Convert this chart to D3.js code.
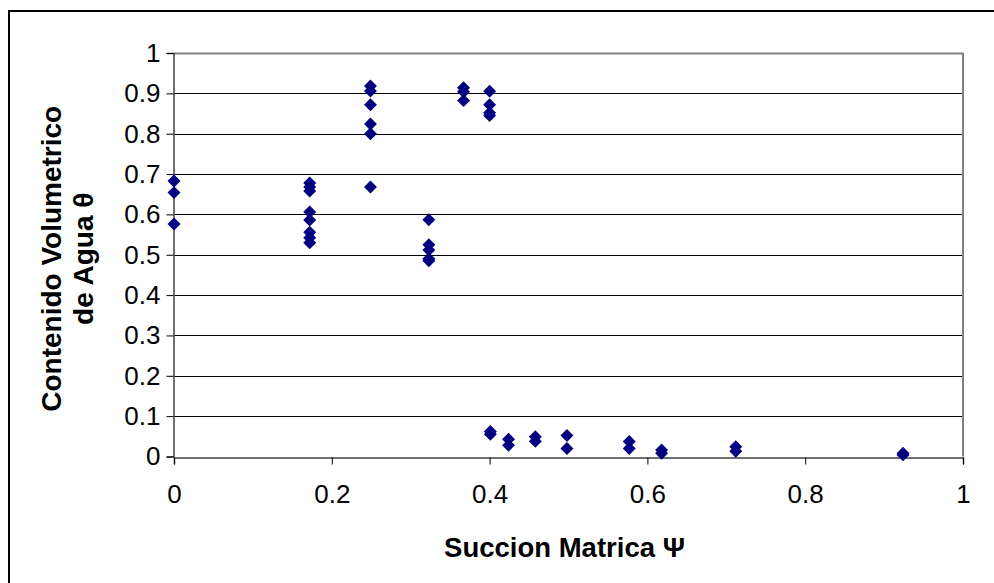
<!DOCTYPE html>
<html>
<head>
<meta charset="utf-8">
<script src="https://cdn.jsdelivr.net/npm/d3@7"></script>
<style>
  html, body { margin: 0; padding: 0; background: #fff; }
  svg { display: block; font-family: "Liberation Sans", Arial, sans-serif; }
</style>
</head>
<body>
<svg id="chart" width="994" height="583"></svg>
<script>
// Matric suction (x) and volumetric water content (y), one entry per sample
const suction = [
  0, 0, 0,
  0.172, 0.172, 0.172, 0.172, 0.172, 0.172, 0.172, 0.172,
  0.249, 0.249, 0.249, 0.249, 0.249, 0.249,
  0.323, 0.323, 0.323, 0.323, 0.323,
  0.367, 0.367, 0.367,
  0.400, 0.400, 0.400, 0.400,
  0.401, 0.401,
  0.424, 0.424,
  0.458, 0.458,
  0.498, 0.498,
  0.577, 0.577,
  0.618, 0.618,
  0.712, 0.712,
  0.924, 0.924
];
const waterContent = [
  0.683, 0.654, 0.576,
  0.678, 0.668, 0.658, 0.606, 0.586, 0.556, 0.542, 0.530,
  0.918, 0.906, 0.872, 0.824, 0.800, 0.668,
  0.587, 0.525, 0.512, 0.490, 0.485,
  0.914, 0.904, 0.882,
  0.905, 0.872, 0.852, 0.845,
  0.062, 0.055,
  0.043, 0.028,
  0.049, 0.038,
  0.052, 0.020,
  0.037, 0.020,
  0.016, 0.008,
  0.024, 0.013,
  0.008, 0.004
];
const xTicks = [0, 0.2, 0.4, 0.6, 0.8, 1];
const yTicks = [0, 0.1, 0.2, 0.3, 0.4, 0.5, 0.6, 0.7, 0.8, 0.9, 1];

const svg = d3.select("#chart");
const plot = { left: 174, right: 963, top: 53, bottom: 456.5 };

const x = d3.scaleLinear().domain([0, 1]).range([plot.left, plot.right]);
const y = d3.scaleLinear().domain([0, 1]).range([plot.bottom, plot.top]);

// Outer chart frame
svg.append("rect")
  .attr("x", 9).attr("y", 11)
  .attr("width", 1000).attr("height", 600)
  .attr("fill", "none").attr("stroke", "#000").attr("stroke-width", 2);

// Horizontal gridlines
svg.append("g")
  .selectAll("line")
  .data(yTicks.filter(d => d > 0 && d < 1))
  .join("line")
  .attr("x1", plot.left).attr("x2", plot.right)
  .attr("y1", d => Math.round(y(d)) + 0.5).attr("y2", d => Math.round(y(d)) + 0.5)
  .attr("stroke", "#000").attr("stroke-width", 1);

// Plot area border on top and right
svg.append("path")
  .attr("d", `M${plot.left},${Math.round(y(1)) + 0.5}H${plot.right}V${plot.bottom}`)
  .attr("fill", "none").attr("stroke", "#808080").attr("stroke-width", 2);

// Axes
const xAxis = svg.append("g")
  .attr("transform", `translate(0,${Math.round(plot.bottom) + 0.5})`)
  .call(d3.axisBottom(x).tickValues(xTicks).tickFormat(d3.format("")).tickSize(7).tickPadding(20));
const yAxis = svg.append("g")
  .attr("transform", `translate(${plot.left - 0.5},0)`)
  .call(d3.axisLeft(y).tickValues(yTicks).tickFormat(d3.format("")).tickSize(7).tickPadding(6));

[xAxis, yAxis].forEach(g => {
  g.select(".domain").attr("stroke", "#404040").attr("stroke-width", 1.5);
  g.selectAll(".tick line").attr("stroke", "#000");
  g.selectAll(".tick text")
    .attr("fill", "#000")
    .style("font-size", "26px")
    .style("font-family", "'Liberation Sans', Arial, sans-serif");
});

// Data markers: navy diamonds
const diamond = {
  draw(ctx, size) {
    const r = Math.sqrt(size / 2);
    ctx.moveTo(0, -r); ctx.lineTo(r, 0); ctx.lineTo(0, r); ctx.lineTo(-r, 0); ctx.closePath();
  }
};
svg.append("g")
  .selectAll("path")
  .data(suction.map((s, i) => [s, waterContent[i]]))
  .join("path")
  .attr("transform", d => `translate(${x(d[0])},${y(d[1])})`)
  .attr("d", d3.symbol().type(diamond).size(84))
  .attr("fill", "#000080");

// Axis titles
svg.append("text")
  .attr("x", (plot.left + plot.right) / 2 - 4).attr("y", 557)
  .attr("text-anchor", "middle")
  .style("font-size", "27.5px").style("font-weight", "bold")
  .text("Succion Matrica Ψ");

const yTitle = svg.append("text")
  .attr("transform", `translate(0,${(plot.top + plot.bottom) / 2 + 4}) rotate(-90)`)
  .attr("text-anchor", "middle")
  .style("font-size", "28px").style("font-weight", "bold");
yTitle.append("tspan").attr("x", 0).attr("y", 61).text("Contenido Volumetrico");
yTitle.append("tspan").attr("x", 0).attr("y", 93).text("de Agua θ");
</script>
</body>
</html>
